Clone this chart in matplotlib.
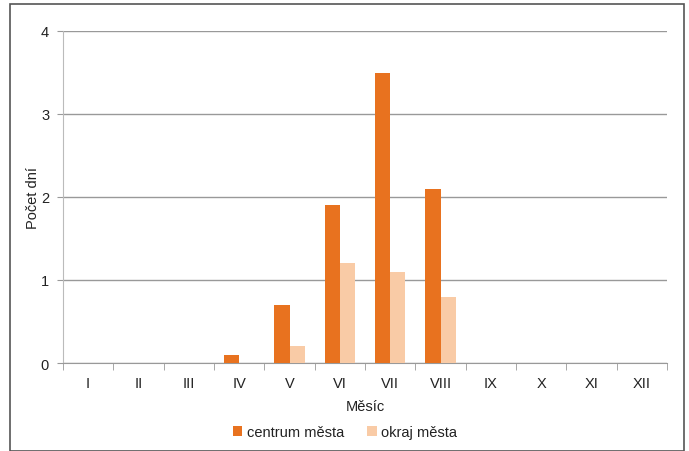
import matplotlib
matplotlib.use("Agg")
import matplotlib.pyplot as plt
import numpy as np
from matplotlib.patches import Rectangle

plt.rcParams['font.family'] = ['Liberation Sans', 'DejaVu Sans']

months = ["I", "II", "III", "IV", "V", "VI", "VII", "VIII", "IX", "X", "XI", "XII"]
centrum = [0, 0, 0, 0.1, 0.7, 1.9, 3.5, 2.1, 0, 0, 0, 0]
okraj = [0, 0, 0, 0, 0.2, 1.2, 1.1, 0.8, 0, 0, 0, 0]
series_names = ["centrum města", "okraj města"]
yticks = [0, 1, 2, 3, 4]

c_dark = "#E8721F"
c_light = "#F9CBA6"
fs = 10.5

fig = plt.figure(figsize=(6.89, 4.52), dpi=100)
ax = fig.add_axes([63/689, 1-364/452, (667-63)/689, (364-32)/452])

x = np.arange(len(months))
w = 0.3
ax.bar(x - w/2, centrum, width=w, color=c_dark, label=series_names[0], zorder=3)
ax.bar(x + w/2, okraj, width=w, color=c_light, label=series_names[1], zorder=3)

ax.set_xlim(-0.5, len(months) - 0.5)
ax.set_ylim(0, 4)
ax.set_yticks(yticks)
ax.set_yticklabels([str(v) for v in yticks])
ax.yaxis.grid(True, color="#999999", linewidth=1.0, zorder=0)
ax.set_axisbelow(True)

ax.set_xticks(x)
ax.set_xticklabels(months)
ax.set_xticks(np.arange(-0.5, len(months)), minor=True)
ax.tick_params(axis="x", which="major", length=0, pad=9, labelsize=fs, colors="#222222")
ax.tick_params(axis="x", which="minor", length=5, color="#999999", direction="out")
ax.tick_params(axis="y", length=4, color="#999999", pad=6, labelsize=fs, labelcolor="#222222")

for s in ["top", "right"]:
    ax.spines[s].set_visible(False)
ax.spines["left"].set_color("#BBBBBB")
ax.spines["bottom"].set_color("#999999")

ax.set_xlabel("Měsíc", fontsize=fs, color="#222222", labelpad=7)
ax.set_ylabel("Počet dní", fontsize=fs, color="#222222")
ax.yaxis.set_label_coords((40-63)/604, 0.5)

leg = fig.legend(loc="center", bbox_to_anchor=(345/689, 1-433/452), ncol=2, frameon=False,
                 fontsize=fs, handlelength=0.65, handleheight=0.65, handletextpad=0.3,
                 columnspacing=1.6)
for t in leg.get_texts():
    t.set_color("#222222")

fig.patches.append(Rectangle((10/689, 0), (684-10)/689, 1 - 5/452, transform=fig.transFigure,
                             fill=False, edgecolor="#555555", linewidth=1.2))

fig.savefig("out.png", dpi=100)
